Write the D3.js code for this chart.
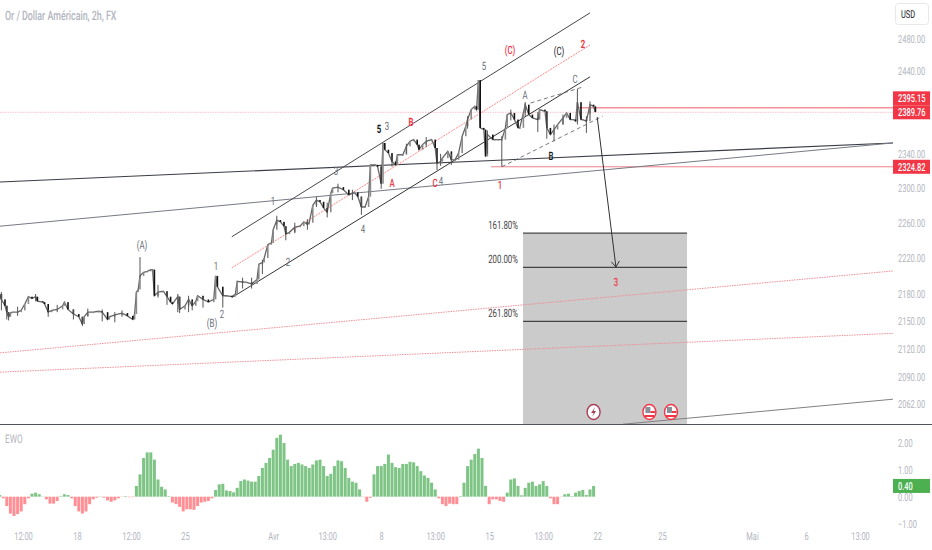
<!DOCTYPE html>
<html>
<head>
<meta charset="utf-8">
<script src="https://cdnjs.cloudflare.com/ajax/libs/d3/7.8.5/d3.min.js"></script>
<style>
  html, body { margin: 0; padding: 0; background: #fff; }
  svg { display: block; font-family: Roboto, sans-serif; text-rendering: geometricPrecision; }
</style>
</head>
<body>
<div id="chart"></div>
<script>
// price bars, position counted in 2h bars from the left edge
var barIndex = [0,1,3,4,5,6,7,10,12,14,16,18,20,21,24,25,27,29,32,35,36,38,41,44,46,47,49,52,55,57,60,61,64,68,71,74,75,76,77,78,80,82,84,85,86,88,91,93,95,96,99,100,103,105,107,109,110,113,116,119,120,121,124,126,129,131,132,135,137,140,143,144,146,147,149,151,152,154,156,158,159,161,164,167,169,171,172,174,176,178,180,182,184,185,188,191,194,196,197,199,201,203,205,206,209,210,212,213,214,216,218,220,221,224,226,228,230,232,233,235,237,240,242,243,245,246,249,251,253,255,257,259,260,262,264,265,266,267,269,270,271,274,275,277,279,281,282,284,286,288,289,291,292,294,296,299,300,303,304,306,308,310,313,315,317,319,320,321,323,324,326,328,330,331];
var barClose = [2180,2174,2167,2160,2155,2159,2160,2160,2162,2169,2177,2175,2177,2172,2171,2169,2160,2162,2163,2167,2171,2163,2158,2155,2147,2155,2160,2160,2161,2160,2152,2155,2157,2159,2156,2152,2158,2182,2185,2200,2204,2205,2207,2207,2178,2182,2183,2177,2171,2169,2177,2163,2167,2174,2167,2172,2178,2174,2171,2174,2200,2188,2178,2178,2177,2180,2194,2193,2193,2191,2196,2213,2215,2220,2235,2237,2252,2263,2261,2256,2247,2249,2255,2256,2261,2258,2260,2280,2286,2284,2277,2272,2294,2300,2301,2298,2292,2294,2295,2290,2278,2278,2290,2327,2327,2325,2305,2353,2345,2341,2331,2327,2339,2339,2349,2355,2357,2351,2345,2351,2355,2357,2347,2329,2331,2335,2343,2333,2333,2341,2361,2373,2381,2393,2397,2393,2429,2371,2369,2337,2363,2357,2357,2357,2357,2371,2387,2389,2381,2371,2371,2389,2399,2387,2383,2381,2393,2391,2371,2363,2369,2375,2383,2389,2381,2381,2379,2402,2381,2381,2379,2399,2397,2390];

// the wicks that stick out of the bodies
var wickBar = [1,4,5,27,46,78,100,107,146,159,182,201,212,243,245,279,299,304,321,328,10,20,32,41,49,57,64,68,88,93,99,105,113,124,135,140,154,164,171,176,188,196,218,226,237,251,260,271,284,292,308,313,326];
var wickHigh = [2182,2167,2160,2163,2155,2221,2177,2172,2218,2256,2283,2290,2327,2345,2340,2361,2390,2390,2418,2403,2166,2180,2168,2163,2164,2163,2160,2162,2190,2183,2180,2178,2177,2182,2198,2198,2268,2260,2264,2290,2305,2298,2337,2352,2360,2340,2385,2368,2393,2402,2375,2387,2385];
var wickLow = [2162,2152,2151,2155,2145,2198,2159,2162,2202,2240,2266,2269,2299,2321,2326,2325,2366,2358,2375,2388,2156,2172,2160,2152,2156,2150,2149,2155,2176,2168,2160,2160,2165,2165,2186,2186,2258,2248,2252,2278,2295,2286,2325,2340,2348,2327,2370,2340,2380,2385,2355,2375,2365];

// Elliott wave oscillator, one value every second bar
var ewoValues = [0.06,-0.06,-0.35,-0.63,-0.72,-0.65,-0.55,-0.28,-0.06,0.11,0.15,0.09,0.01,-0.10,-0.26,-0.26,-0.16,0.02,0.09,0.06,-0.06,-0.35,-0.55,-0.63,-0.55,-0.28,-0.10,-0.04,0.01,-0.04,-0.14,-0.19,-0.14,-0.06,-0.01,0.02,-0.02,-0.02,0.40,0.83,1.44,1.65,1.65,1.38,0.64,0.37,0.27,0.02,-0.22,-0.28,-0.38,-0.55,-0.47,-0.47,-0.49,-0.35,-0.22,-0.19,-0.16,-0.06,0.25,0.46,0.48,0.23,0.21,0.16,0.33,0.58,0.64,0.60,0.56,0.56,0.77,1.07,1.26,1.44,1.75,2.19,2.31,2.00,1.38,1.14,1.22,1.26,1.20,1.14,1.07,1.20,1.35,1.38,1.14,0.77,0.85,1.14,1.35,1.32,1.07,0.70,0.56,0.52,0.27,-0.01,-0.19,-0.04,0.83,1.14,1.14,1.22,1.57,1.26,1.10,1.07,1.22,1.22,1.30,1.28,1.14,0.95,0.79,0.70,0.52,0.27,-0.06,-0.28,-0.35,-0.26,-0.28,-0.28,0.02,0.52,1.14,1.38,1.59,1.79,1.44,0.40,-0.28,-0.10,-0.10,-0.16,-0.19,0.15,0.64,0.68,0.40,0.05,0.33,0.52,0.56,0.40,0.46,0.58,0.40,-0.06,-0.28,-0.28,-0.01,0.09,0.11,0.02,0.15,0.21,0.25,0.06,0.27,0.40];

var priceTicks = [2480,2440,2340,2300,2260,2220,2180,2150,2120,2090,2062];
var ewoTicks = [2,1,0,-1];
var timeTicks = [13,43,73,103,152,182,212,242,272,302,332,368,418,448,478];
var timeLabels = ['12:00','18','12:00','25','Avr','13:00','8','13:00','15','13:00','22','25','Mai','6','13:00'];

// drawings on the chart: [bar, price] at both ends
var trendBlack = [[0.2,2307],[496.3,2353]];
var trendGrey = [[0.2,2256],[496.3,2353]];
var trendLow = [[346.3,2041],[496.3,2067]];
var channelTop = [[129,2244],[328,2513]];
var channelMid = [[129,2209],[328,2472.5]];
var channelBottom = [[129,2176],[328,2433]];
var wedgeTop = [[295,2401],[324,2420.5]];
var wedgeBottom = [[279,2324.82],[335,2385]];
var forecastArrow = [[332,2384],[342.4,2210]];
var dottedHigh = [[0.2,2116],[496.3,2205.5]];
var dottedLow = [[0.2,2095.5],[496.3,2137]];

var fibStart = 290.8, fibEnd = 381.9, fibFloor = 2041;
var fibLevels = [2248,2209.6,2150];
var fibNames = ['161.80%','200.00%','261.80%'];

var priceTags = [2395.15,2389.76,2324.82];
var lastEwo = 0.40;
var eventBars = [330,361,373];

var width = 932, height = 550, axisX = 893, paneBottom = 424, squeeze = 0.68;

var x = d3.scaleLinear().domain([0,100]).range([-0.4,179.6]);
var y = d3.scaleLog().domain([2480,2062]).range([39,404]);
var yEwo = d3.scaleLinear().domain([2,-1]).range([443,523.5]);

var svg = d3.select('#chart').append('svg').attr('width',width).attr('height',height);
svg.append('defs').append('clipPath').attr('id','pane').append('rect')
  .attr('width',axisX).attr('height',paneBottom);

var pricePane = svg.append('g').attr('clip-path','url(#pane)');

function toPath(d) { return d3.line().x(function(p){return x(p[0])}).y(function(p){return y(p[1])})(d); }

function drawLine(points, color, w, dash) {
  return pricePane.append('path').attr('d',toPath(points)).attr('fill','none')
    .attr('stroke',color).attr('stroke-width',w).attr('stroke-dasharray',dash || null);
}

// all text in the picture is narrow, so it gets squeezed sideways
function label(parent, text, px, py, size, color, anchor, weight) {
  return parent.append('text').text(text)
    .attr('transform','translate('+px+','+py+') scale('+squeeze+',1)')
    .attr('text-anchor',anchor || 'middle').attr('dy','.35em')
    .style('font-size',(size || 11)+'px').style('fill',color || '#444')
    .style('font-weight',weight || 400);
}

// fib box goes under everything else
pricePane.append('rect')
  .attr('x',x(fibStart)).attr('width',x(fibEnd)-x(fibStart))
  .attr('y',y(fibLevels[0])).attr('height',y(fibFloor)-y(fibLevels[0]))
  .attr('fill','#cbcbcb');
fibLevels.forEach(function(level){
  drawLine([[fibStart,level],[fibEnd,level]],'#444',1.2);
});

// horizontal levels
drawLine([[0.2,priceTags[1]],[496.3,priceTags[1]]],'#fbc0c5',1,'1.5 1');
drawLine([[322,priceTags[0]],[496.3,priceTags[0]]],'#ef5a66',1);
drawLine([[273,priceTags[2]],[496.3,priceTags[2]]],'#f0808a',1);

drawLine(dottedHigh,'#f08f99',1,'1.5 1');
drawLine(dottedLow,'#f08f99',1,'1.5 1');
drawLine(trendBlack,'#3a3d46',1.1);
drawLine(trendGrey,'#777a85',1);
drawLine(trendLow,'#808080',1);
drawLine(channelTop,'#484848',1);
drawLine(channelMid,'#f88',1,'2 1');
drawLine(channelBottom,'#333',1);
drawLine(wedgeTop,'#555',0.8,'4 3');
drawLine(wedgeBottom,'#555',0.8,'4 3');

// price bars
var closeLine = d3.line().x(function(d,i){return x(barIndex[i])}).y(function(d){return y(d)});
pricePane.append('path').attr('d',closeLine(barClose)).attr('fill','none')
  .attr('stroke','#666').attr('stroke-width',1.3);

var bars = pricePane.append('g').selectAll('g').data(barClose).enter().append('g');
bars.append('rect')
  .attr('x',function(d,i){return x(barIndex[i])-0.8})
  .attr('width',1.6)
  .attr('y',function(d,i){return y(Math.max(d,i ? barClose[i-1] : d))})
  .attr('height',function(d,i){
    var open = i ? barClose[i-1] : d;
    return Math.max(1,Math.abs(y(d)-y(open)));
  })
  .attr('fill',function(d,i){return i && d < barClose[i-1] ? '#111' : '#8a8a8a'});

pricePane.append('g').selectAll('line').data(wickBar).enter().append('line')
  .attr('x1',function(d){return x(d)}).attr('x2',function(d){return x(d)})
  .attr('y1',function(d,i){return y(wickHigh[i])}).attr('y2',function(d,i){return y(wickLow[i])})
  .attr('stroke','#555').attr('stroke-width',1);

// forecast arrow with its open head
drawLine(forecastArrow,'#333',1);
var tip = [x(forecastArrow[1][0]),y(forecastArrow[1][1])];
pricePane.append('path')
  .attr('d','M'+(tip[0]-4.5)+','+(tip[1]-5)+'L'+tip[0]+','+tip[1]+'L'+(tip[0]+3.5)+','+(tip[1]-6))
  .attr('fill','none').attr('stroke','#333').attr('stroke-width',1);

// event badges on the time line
var badges = svg.append('g').selectAll('g').data(eventBars).enter().append('g')
  .attr('transform',function(d){return 'translate('+x(d)+',412)'});
badges.append('ellipse').attr('rx',6.5).attr('ry',7.5).attr('fill','#fff')
  .attr('stroke',function(d,i){return i ? '#f23645' : '#a8405a'}).attr('stroke-width',1.4);
badges.filter(function(d,i){return i > 0}).each(function(){
  var g = d3.select(this);
  g.append('rect').attr('x',-5).attr('y',3).attr('width',10).attr('height',2).attr('fill','#f23645');
  g.append('rect').attr('x',-4).attr('y',-5).attr('width',5).attr('height',6).attr('fill','#8a8f9c');
  g.append('rect').attr('x',1).attr('y',-1).attr('width',4.5).attr('height',2).attr('fill','#f23645');
});
badges.filter(function(d,i){return i === 0}).append('path')
  .attr('d','M1.5,-5L-2.5,1H0L-1.5,5L2.5,-1H0Z').attr('fill','#a8405a');

// pane separator
svg.append('line').attr('x1',0).attr('x2',width).attr('y1',paneBottom+0.5).attr('y2',paneBottom+0.5)
  .attr('stroke','#50535e').attr('stroke-width',1);

// oscillator
svg.append('g').selectAll('rect').data(ewoValues).enter().append('rect')
  .attr('x',function(d,i){return x(i*2)-1.5})
  .attr('width',3)
  .attr('y',function(d){return Math.min(yEwo(d),yEwo(0))})
  .attr('height',function(d){return Math.abs(yEwo(d)-yEwo(0))})
  .attr('fill',function(d){return d >= 0 ? '#7ec485' : '#ff8f94'});

// axes
var priceAxis = svg.append('g').attr('transform','translate(898,0)')
  .call(d3.axisRight(y).tickValues(priceTicks).tickSize(0).tickFormat(d3.format('.2f')));
var ewoAxis = svg.append('g').attr('transform','translate(898,0)')
  .call(d3.axisRight(yEwo).tickValues(ewoTicks).tickSize(0).tickFormat(d3.format('.2f')));
var timeAxis = svg.append('g').attr('transform','translate(0,529)')
  .call(d3.axisBottom(x).tickValues(timeTicks).tickSize(0)
    .tickFormat(function(d,i){return timeLabels[i]}));

[priceAxis,ewoAxis,timeAxis].forEach(function(a){
  a.select('.domain').remove();
  a.selectAll('text').style('font-size','11px').style('fill','#b2b5be')
    .style('font-family','Roboto, sans-serif');
});
priceAxis.selectAll('text').attr('x',0).attr('transform','scale('+squeeze+',1)').attr('text-anchor','start');
ewoAxis.selectAll('text').attr('x',0).attr('transform','scale('+squeeze+',1)').attr('text-anchor','start');
timeAxis.selectAll('text').attr('transform','scale('+squeeze+',1)');

// price tags, the first one is pushed up so it clears the second
var tagNudge = [-9.5,0,0];
priceTags.forEach(function(p,i){
  svg.append('rect').attr('x',axisX).attr('y',y(p)+tagNudge[i]-7).attr('width',37).attr('height',14).attr('fill','#f23645');
  label(svg,d3.format('.2f')(p),898,y(p)+tagNudge[i],11,'#fff','start',500);
});
svg.append('rect').attr('x',axisX).attr('y',yEwo(lastEwo)-7).attr('width',37).attr('height',14).attr('fill','#4caf50');
label(svg,d3.format('.2f')(lastEwo),898,yEwo(lastEwo),11,'#fff','start',500);

// currency button
svg.append('rect').attr('x',895.5).attr('y',3.5).attr('width',33).attr('height',21).attr('rx',3)
  .attr('fill','#fff').attr('stroke','#e6e8ee');
label(svg,'USD',908,14,11,'#131722');

// headers
label(svg,'Or / Dollar Américain, 2h, FX',5,15,13,'#b2b5be','start',500);
label(svg,'EWO',5,439,12,'#b2b5be','start');

// fib names, left of the box
fibNames.forEach(function(n,i){
  label(svg,n,518,y(fibLevels[i])-8.5,11.5,'#444','end');
});

// wave counts
var waveRed = '#f23645', waveGrey = '#6a6d78', waveBlack = '#131722';
var waveLabels = [
  ['(A)',142,245,waveGrey],['1',216,266,waveGrey],['2',222,314,waveGrey],['(B)',212,323,waveGrey],
  ['1',273,201,waveGrey],['2',288,262,waveGrey],['3',336,171,waveGrey],['4',363,229,waveGrey],
  ['5',379,129,waveBlack,700],['3',387,126,waveGrey],['A',392,183,waveRed,500],['B',411,122,waveRed,700],
  ['C',435,183,waveRed,500],['4',441,181,waveGrey],['5',484,66,waveGrey],['(C)',510,50,waveRed,500],
  ['(C)',559,51,waveBlack],['2',583,44,waveRed,700],['C',575,79,waveGrey],['A',525,95,waveGrey],
  ['B',551,156,waveBlack,500],['1',500,185,waveRed,500],['3',616,282,waveRed,500]
];
waveLabels.forEach(function(w){
  label(svg,w[0],w[1],w[2],11.5,w[3],'middle',w[4]);
});
</script>
</body>
</html>
